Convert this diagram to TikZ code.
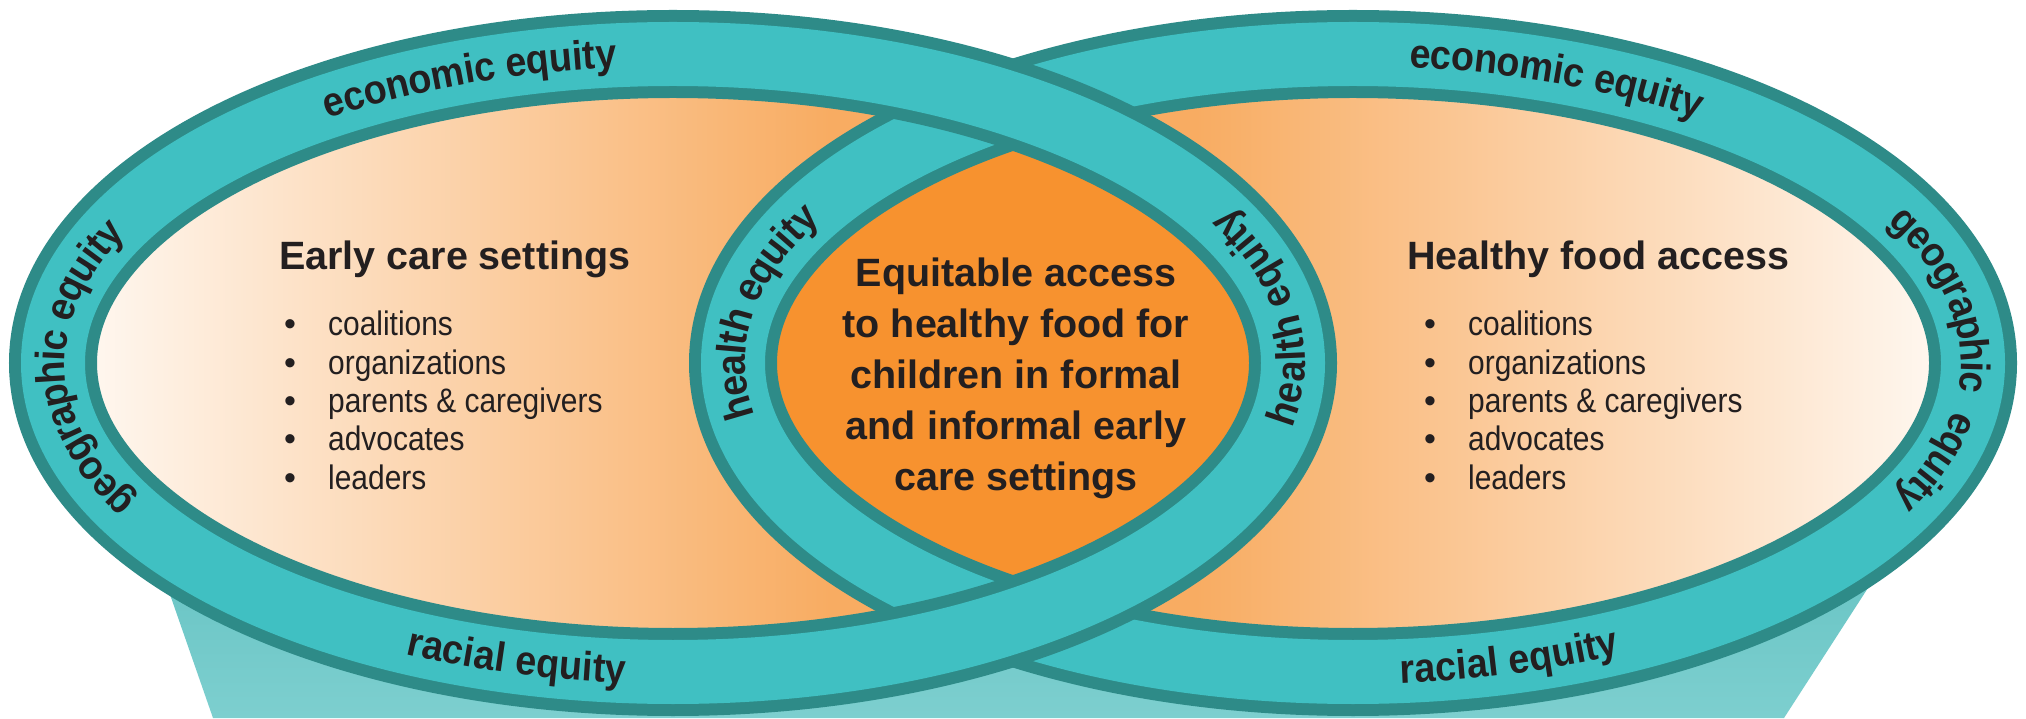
\documentclass[tikz,border=0pt]{standalone}
\usepackage{fontspec}
\setmainfont{Liberation Sans}
\newfontfamily\ringfamily[FakeStretch=0.92]{Liberation Sans}
\newfontfamily\listfamily[FakeStretch=0.88]{Liberation Sans}
\usetikzlibrary{calc,decorations.text}

\definecolor{ringdark}{HTML}{2E8B88}
\definecolor{ringlight}{HTML}{40C0C2}
\definecolor{funneltop}{HTML}{68C4C4}
\definecolor{funnelbottom}{HTML}{7DCFCF}
\definecolor{cream}{HTML}{FFFAF5}
\definecolor{peach}{HTML}{F8AC62}
\definecolor{lensorange}{HTML}{F7922F}
\definecolor{ink}{HTML}{231F20}

% font of the words written along the rings
\newcommand\ringstyle{\ringfamily\bfseries\fontsize{41}{48}\selectfont}
% #1 ellipse centre, #2/#3 parametric start/end angle, #4 words
\newcommand\ringtext[4]{%
  \path[decorate, decoration={text along path, text={|\ringstyle|#4},
        text align=center, raise=-12pt, text color=ink}]
    ($(#1)+(#2:620pt and 309pt)$)
    arc[start angle=#2, end angle=#3, x radius=620pt, y radius=309pt];}

\begin{document}
\begin{tikzpicture}[x=1pt,y=1pt,
  ringband/.style={line width=88pt, draw=ringdark},
  ringcore/.style={line width=64pt, draw=ringlight},
  heading/.style={font=\bfseries\fontsize{39.5}{46}\selectfont, text=ink,
                  anchor=base west, inner sep=0pt},
  centreline/.style={font=\bfseries\fontsize{39.5}{46}\selectfont, text=ink,
                  anchor=base, inner sep=0pt},
  listitem/.style={font=\listfamily\fontsize{34}{40}\selectfont, text=ink,
                  anchor=base west, inner sep=0pt},
  bulletmark/.style={font=\fontsize{34}{40}\selectfont, text=ink,
                  anchor=base, inner sep=0pt}]

\useasboundingbox (0,0) rectangle (2026,718);
\fill[white] (0,0) rectangle (2026,718);

\coordinate (Lc) at (673,355);
\coordinate (Rc) at (1353,355);

% funnel below the two ellipses
\shade[top color=funneltop, bottom color=funnelbottom]
  (158,158) -- (213,0) -- (1784,0) -- (1886,158) -- cycle;

% inner fills with their horizontal gradients
\begin{scope}
  \clip (Lc) ellipse [x radius=620pt, y radius=309pt];
  \fill[peach] (0,0) rectangle (2026,718);
  \shade[left color=cream, right color=peach] (60,0) rectangle (830,718);
\end{scope}
\begin{scope}
  \clip (Rc) ellipse [x radius=620pt, y radius=309pt];
  \fill[peach] (0,0) rectangle (2026,718);
  \shade[left color=peach, right color=cream] (1196,0) rectangle (1966,718);
\end{scope}
% overlap of the two ellipses
\begin{scope}
  \clip (Lc) ellipse [x radius=620pt, y radius=309pt];
  \fill[lensorange] (Rc) ellipse [x radius=620pt, y radius=309pt];
\end{scope}

% right ring (passes under the left one)
\draw[ringband] (Rc) ellipse [x radius=620pt, y radius=309pt];
\draw[ringcore] (Rc) ellipse [x radius=620pt, y radius=309pt];
\ringtext{Rc}{195}{147}{health equity}
\ringtext{Rc}{88}{52}{economic equity}
\ringtext{Rc}{33}{-11}{geographic}
\ringtext{Rc}{-4}{-32}{equity}
\ringtext{Rc}{270}{300}{racial equity}

% left ring
\draw[ringband] (Lc) ellipse [x radius=620pt, y radius=309pt];
\draw[ringcore] (Lc) ellipse [x radius=620pt, y radius=309pt];
\ringtext{Lc}{128}{92}{economic equity}
\ringtext{Lc}{213}{149}{geographic equity}
\ringtext{Lc}{240}{270}{racial equity}
\ringtext{Lc}{-16}{32}{health equity}

% headings
\node[heading] (hdL) at (279,448) {Early care settings};
\node[heading] (hdR) at (1407,448) {Healthy food access};

% bullet lists
\foreach \txt [count=\i] in {coalitions, organizations, parents \& caregivers, advocates, leaders} {
  \node[bulletmark] (bL\i) at (290,{420.3-38.3*\i}) {•};
  \node[listitem]   (iL\i) at (328,{420.3-38.3*\i}) {\txt};
  \node[bulletmark] (bR\i) at (1430,{420.3-38.3*\i}) {•};
  \node[listitem]   (iR\i) at (1468,{420.3-38.3*\i}) {\txt};
}

% centre statement
\foreach \txt [count=\i] in {Equitable access, to healthy food for, children in formal, and informal early, care settings} {
  \node[centreline] (c\i) at (1016,{482-51*\i}) {\txt};
}
\end{tikzpicture}
\end{document}
